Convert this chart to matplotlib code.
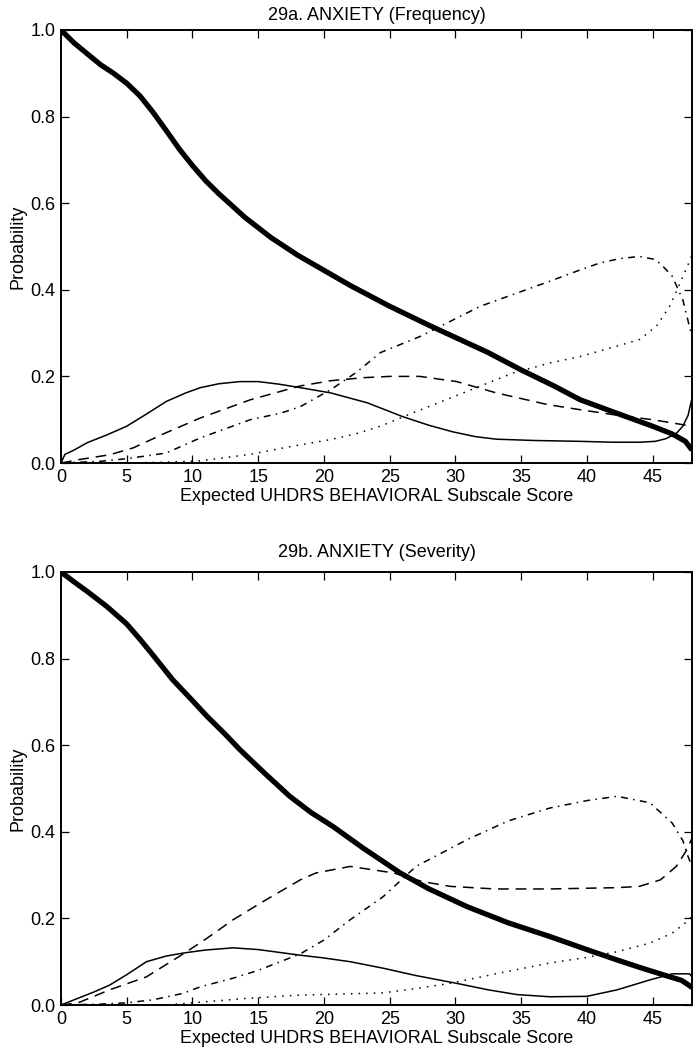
import numpy as np
import matplotlib
matplotlib.use('Agg')
import matplotlib.pyplot as plt

plt.rcParams['font.family'] = ['Liberation Sans', 'DejaVu Sans']

# ---- 29a. ANXIETY (Frequency) ----
xa_thick = [0, 1, 2, 3, 4, 5, 6, 7, 8, 9, 10, 11, 12, 14, 16, 18, 20, 22, 25, 28, 30, 32.5, 35, 37.5, 39.5, 42, 45, 46.5, 47.5, 48]
ya_thick = [1.0, 0.97, 0.945, 0.92, 0.9, 0.877, 0.848, 0.81, 0.768, 0.725, 0.687, 0.652, 0.622, 0.567, 0.52, 0.48, 0.445, 0.41, 0.362, 0.318, 0.29, 0.255, 0.215, 0.178, 0.146, 0.118, 0.085, 0.067, 0.05, 0.03]

xa_solid = [0, 0.3, 1, 2, 3.5, 5, 6.5, 8, 9.5, 10.6, 12, 13.6, 15, 16.6, 18.2, 20.5, 23.3, 26, 28, 29.8, 31.5, 33.1, 36, 39.5, 42, 44, 45.2, 46, 46.8, 47.3, 47.7, 48]
ya_solid = [0.0, 0.02, 0.03, 0.047, 0.065, 0.085, 0.113, 0.142, 0.162, 0.174, 0.183, 0.188, 0.188, 0.182, 0.174, 0.162, 0.139, 0.107, 0.087, 0.072, 0.061, 0.055, 0.052, 0.05, 0.048, 0.048, 0.05, 0.056, 0.068, 0.085, 0.11, 0.15]

xa_dash = [0, 1.4, 3.7, 5.5, 8, 10.6, 14.4, 18.2, 20.5, 23, 25, 27.3, 30.1, 33.1, 37, 39.5, 42.4, 45, 48]
ya_dash = [0.0, 0.008, 0.019, 0.035, 0.07, 0.104, 0.146, 0.178, 0.19, 0.197, 0.2, 0.2, 0.188, 0.162, 0.135, 0.123, 0.11, 0.1, 0.085]

xa_dashdot = [0, 3, 5, 8, 10.6, 14.4, 16.7, 18.2, 20.5, 22.5, 24.3, 27.3, 31.9, 37.2, 39.5, 41, 42.5, 44, 45.2, 45.8, 46.5, 47.3, 47.8, 48]
ya_dashdot = [0.0, 0.004, 0.01, 0.023, 0.058, 0.1, 0.115, 0.13, 0.169, 0.21, 0.255, 0.292, 0.362, 0.42, 0.446, 0.462, 0.472, 0.477, 0.47, 0.454, 0.431, 0.377, 0.316, 0.29]

xa_dot = [0, 5, 8, 10.6, 14.4, 16.6, 18.2, 20.5, 22.5, 24.3, 26.8, 30.6, 34.4, 37.2, 39.5, 42.3, 44, 45.3, 46.3, 47.1, 47.8, 48]
ya_dot = [0.0, 0.0, 0.002, 0.005, 0.02, 0.033, 0.042, 0.054, 0.068, 0.085, 0.116, 0.162, 0.208, 0.231, 0.246, 0.27, 0.285, 0.316, 0.362, 0.416, 0.465, 0.48]

# ---- 29b. ANXIETY (Severity) ----
xb_thick = [0, 1, 2, 3.5, 5, 6, 7, 8.5, 10, 11.1, 12.5, 13.6, 15.5, 17.4, 19, 20.7, 23, 25.8, 28, 30.9, 34, 37.2, 40, 42.3, 44, 46, 47.2, 47.8, 48]
yb_thick = [1.0, 0.977, 0.955, 0.92, 0.88, 0.845, 0.808, 0.751, 0.703, 0.667, 0.625, 0.59, 0.535, 0.482, 0.445, 0.412, 0.362, 0.305, 0.268, 0.227, 0.19, 0.158, 0.128, 0.104, 0.087, 0.068, 0.057, 0.045, 0.04]

xb_solid = [0, 1, 2.5, 3.7, 5, 6.5, 8, 9.3, 11, 13.1, 15, 18.2, 19.9, 22, 24.5, 27, 30.1, 32.5, 34.7, 37.2, 40, 42.3, 44.8, 46.5, 47.8, 48]
yb_solid = [0.0, 0.012, 0.03, 0.046, 0.07, 0.1, 0.113, 0.12, 0.127, 0.132, 0.128, 0.115, 0.109, 0.1, 0.085, 0.068, 0.05, 0.035, 0.024, 0.019, 0.02, 0.035, 0.058, 0.072, 0.072, 0.065]

xb_dash = [0, 1.3, 3.7, 6.5, 9.3, 11, 13.1, 15.6, 18.2, 19.4, 22, 25.3, 27.5, 29.6, 33, 37.2, 42.3, 44, 45.6, 46.8, 47.6, 48]
yb_dash = [0.0, 0.005, 0.035, 0.065, 0.118, 0.152, 0.197, 0.243, 0.289, 0.305, 0.32, 0.305, 0.285, 0.274, 0.268, 0.268, 0.271, 0.274, 0.289, 0.32, 0.358, 0.385]

xb_dashdot = [0, 3, 5, 7, 9.3, 10.6, 13.1, 15, 18.2, 20, 22, 24.5, 27, 30.9, 34, 37.2, 40, 42.3, 44.8, 46.5, 47.3, 47.7, 48]
yb_dashdot = [0.0, 0.002, 0.005, 0.012, 0.027, 0.042, 0.062, 0.08, 0.118, 0.15, 0.197, 0.25, 0.32, 0.382, 0.425, 0.455, 0.472, 0.482, 0.467, 0.42, 0.38, 0.343, 0.32]

xb_dot = [0, 8, 10, 14, 18.2, 21, 24.5, 27, 29.6, 33.4, 37.2, 40, 42.3, 44.8, 46.5, 47.8, 48]
yb_dot = [0.0, 0.0, 0.005, 0.015, 0.023, 0.025, 0.028, 0.038, 0.05, 0.074, 0.097, 0.11, 0.123, 0.143, 0.166, 0.197, 0.205]

xticks = [0, 5, 10, 15, 20, 25, 30, 35, 40, 45]
yticks = [0.0, 0.2, 0.4, 0.6, 0.8, 1.0]
titles = ['29a. ANXIETY (Frequency)', '29b. ANXIETY (Severity)']
xlabel = 'Expected UHDRS BEHAVIORAL Subscale Score'
ylabel = 'Probability'

fig = plt.figure(figsize=(6.94, 10.5), dpi=100)
ax1 = fig.add_axes([61/694, 1-463/1050, 631/694, 433/1050])
ax2 = fig.add_axes([61/694, 1-1005/1050, 631/694, 433/1050])

panels = [
    (ax1, [(xa_thick, ya_thick), (xa_solid, ya_solid), (xa_dash, ya_dash), (xa_dashdot, ya_dashdot), (xa_dot, ya_dot)]),
    (ax2, [(xb_thick, yb_thick), (xb_solid, yb_solid), (xb_dash, yb_dash), (xb_dashdot, yb_dashdot), (xb_dot, yb_dot)]),
]
styles = [
    dict(lw=3.8, ls='-'),
    dict(lw=1.1, ls='-'),
    dict(lw=1.1, ls=(0, (7, 4.5))),
    dict(lw=1.1, ls=(0, (4.5, 3.5, 1, 3.5))),
    dict(lw=1.1, ls=(0, (1, 4))),
]

for i, (ax, series) in enumerate(panels):
    for (xs, ys), st in zip(series, styles):
        ax.plot(xs, ys, color='black', solid_capstyle='butt', dash_capstyle='butt',
                solid_joinstyle='round', **st)
    ax.set_xlim(0, 48)
    ax.set_ylim(0, 1.0)
    ax.set_xticks(xticks)
    ax.set_yticks(yticks)
    ax.set_yticklabels(['%.1f' % v for v in yticks])
    ax.tick_params(direction='in', length=5.5, width=0.9, top=True, right=True,
                   labelsize=13, pad=4)
    for sp in ax.spines.values():
        sp.set_linewidth(1.4)
    ax.set_title(titles[i], fontsize=13, pad=7 if i == 0 else 11)
    ax.set_xlabel(xlabel, fontsize=13, labelpad=2)
    ax.set_ylabel(ylabel, fontsize=13, labelpad=3)

fig.savefig('out.png', dpi=100)
